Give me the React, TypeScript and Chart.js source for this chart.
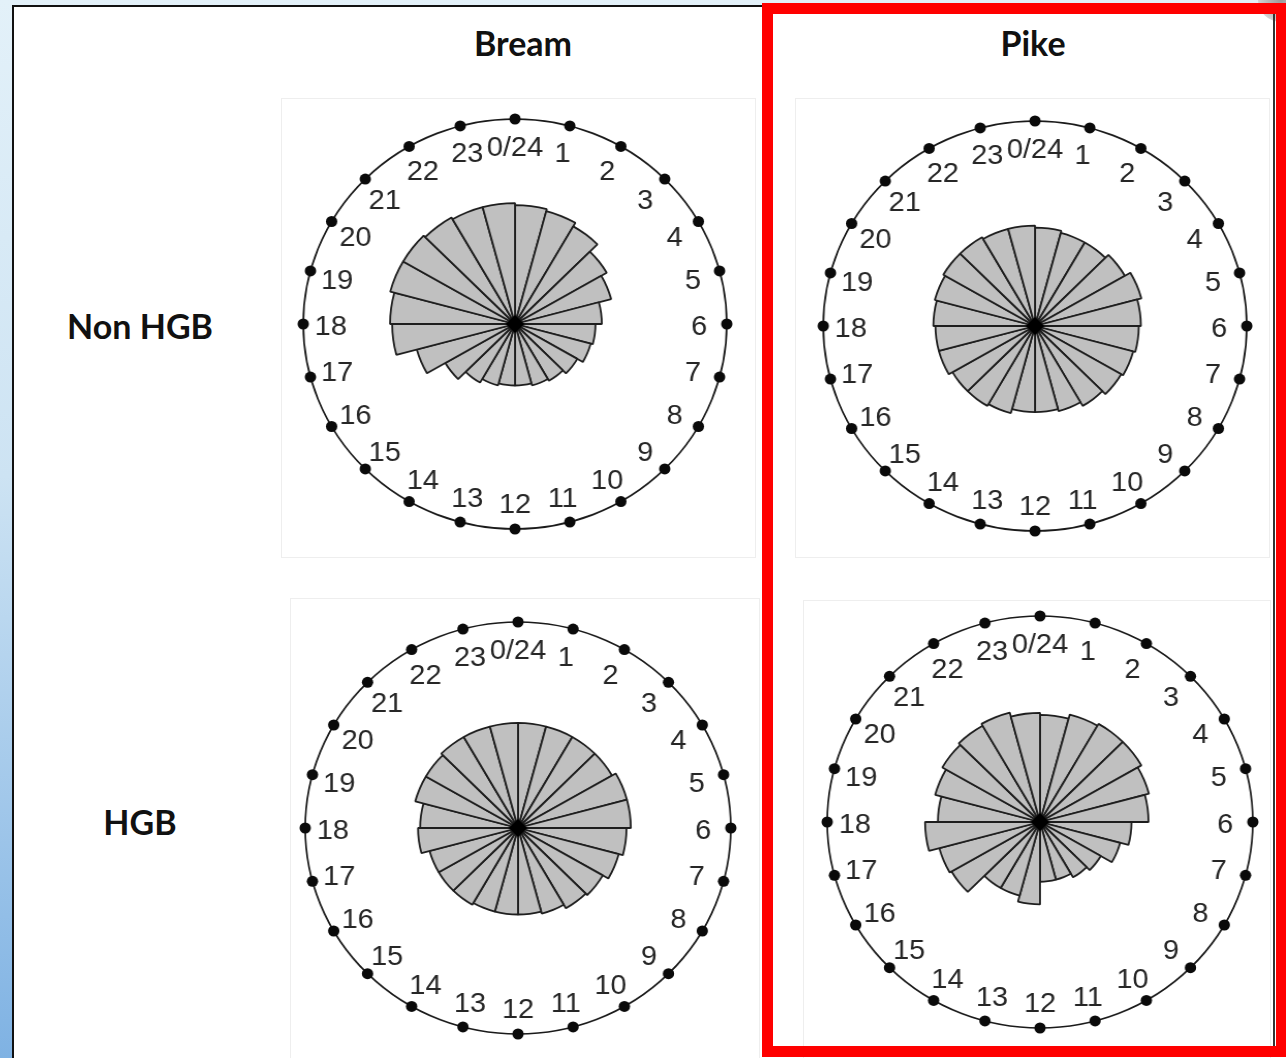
import React, { useEffect, useRef } from "react";
import { Chart, registerables } from "chart.js";

Chart.register(...registerables);

// Hour-of-day labels around each clock face (clockwise from the top).
const HOURS = [
  "0/24", "1", "2", "3", "4", "5", "6", "7", "8", "9", "10", "11",
  "12", "13", "14", "15", "16", "17", "18", "19", "20", "21", "22", "23",
];

// Radial value of the outer clock ring; petal lengths are on the same scale.
const RING = 100;

// Petal length per hourly bin (bin i spans hour i to i+1).
const breamNonHgb = [58, 57, 55, 50, 47, 41, 38, 37, 34, 32, 31, 30, 30, 31, 33, 38, 48, 58, 59, 61, 61, 60, 59, 59];
const pikeNonHgb = [48, 47, 47, 49, 52, 50, 49, 48, 47, 45, 43, 42, 42, 44, 45, 45, 47, 47, 48, 49, 50, 50, 49, 49];
const breamHgb = [51, 51, 51, 51, 53, 53, 51, 49, 46, 45, 43, 42, 42, 42, 43, 43, 43, 47, 46, 50, 50, 51, 51, 51];
const pikeHgb = [52, 54, 55, 55, 53, 51, 43, 39, 33, 31, 29, 29, 40, 37, 37, 48, 49, 54, 48, 51, 53, 54, 55, 53];

const SPECIES = ["Bream", "Pike"];
const GROUPS = ["Non HGB", "HGB"];

const X_STRETCH = 1.033;
const PAD = 14;

// Draws the clock ring, hour dots, hour labels and the centre marker.
const clockFace = {
  id: "clockFace",
  afterDatasetsDraw(chart: any) {
    const r = chart.scales.r;
    const ctx = chart.ctx as CanvasRenderingContext2D;
    const cx = r.xCenter;
    const cy = r.yCenter;
    const ring = r.getDistanceFromCenterForValue(RING);
    const labels = chart.data.labels as string[];
    ctx.save();
    ctx.beginPath();
    ctx.arc(cx, cy, ring, 0, Math.PI * 2);
    ctx.lineWidth = 1.7;
    ctx.strokeStyle = "#1a1a1a";
    ctx.stroke();

    ctx.fillStyle = "#0a0a0a";
    labels.forEach((_, i) => {
      const p = r.getPointPositionForValue(i, RING);
      ctx.beginPath();
      ctx.arc(p.x, p.y, 5.5, 0, Math.PI * 2);
      ctx.fill();
    });

    ctx.font = '28px "Liberation Sans", Arial, sans-serif';
    ctx.textAlign = "center";
    ctx.textBaseline = "middle";
    ctx.fillStyle = "#262626";
    labels.forEach((lab, i) => {
      const p = r.getPointPositionForValue(i, RING * 0.87);
      ctx.fillText(lab, p.x, p.y + 3);
    });

    // centre diamond
    const d = 9;
    ctx.beginPath();
    ctx.moveTo(cx, cy - d);
    ctx.lineTo(cx + d, cy);
    ctx.lineTo(cx, cy + d);
    ctx.lineTo(cx - d, cy);
    ctx.closePath();
    ctx.fillStyle = "#000";
    ctx.fill();
    ctx.restore();
  },
};

function Rose({ values, cx, cy, radius }: { values: number[]; cx: number; cy: number; radius: number }) {
  const ref = useRef<HTMLCanvasElement>(null);
  const size = 2 * (radius + PAD);
  useEffect(() => {
    if (!ref.current) return;
    const chart = new Chart(ref.current, {
      type: "polarArea",
      data: {
        labels: HOURS,
        datasets: [
          {
            data: values,
            backgroundColor: "#c0c0c0",
            borderColor: "#1e1e1e",
            borderWidth: 1.8,
          },
        ],
      },
      options: {
        responsive: false,
        animation: false,
        devicePixelRatio: 1,
        events: [],
        layout: { padding: PAD },
        plugins: { legend: { display: false }, tooltip: { enabled: false } },
        scales: {
          r: {
            min: 0,
            max: RING,
            startAngle: 0,
            ticks: { display: false },
            grid: { display: false },
            angleLines: { display: false },
            pointLabels: { display: false },
          },
        },
      } as any,
      plugins: [clockFace],
    });
    return () => chart.destroy();
  }, [values]);
  return (
    <div
      style={{
        position: "absolute",
        left: cx - size / 2,
        top: cy - size / 2,
        width: size,
        height: size,
        transform: `scaleX(${X_STRETCH})`,
        transformOrigin: "50% 50%",
      }}
    >
      <canvas ref={ref} width={size} height={size} style={{ width: size, height: size, display: "block" }} />
    </div>
  );
}

const headStyle: React.CSSProperties = {
  position: "absolute",
  transform: "translate(-50%, -50%)",
  fontFamily: "Lato, 'Open Sans', sans-serif",
  fontWeight: 700,
  fontSize: 34,
  color: "#111",
  whiteSpace: "nowrap",
  lineHeight: 1,
};

const boxStyle = (l: number, t: number, w: number, h: number): React.CSSProperties => ({
  position: "absolute",
  left: l,
  top: t,
  width: w,
  height: h,
  border: "1px solid #eeeeee",
  boxSizing: "border-box",
});

export default function App() {
  return (
    <div
      style={{
        position: "fixed",
        left: 0,
        top: 0,
        width: 1286,
        height: 1058,
        overflow: "hidden",
        background: "linear-gradient(to bottom, #e3f1f9 0%, #cde3f3 45%, #7fb2e3 100%)",
      }}
    >
      <div
        style={{
          position: "absolute",
          left: 12,
          top: 5,
          width: 1300,
          height: 1100,
          background: "#fff",
          borderLeft: "2px solid #111",
          borderTop: "2px solid #111",
        }}
      />
      <div
        style={{
          position: "absolute",
          left: 1258,
          top: -22,
          width: 46,
          height: 44,
          borderRadius: "50%",
          background: "radial-gradient(circle at 50% 50%, #9a9a9a 0%, #c8c8c8 60%, rgba(230,230,230,0) 100%)",
        }}
      />
      <div style={boxStyle(281, 98, 475, 460)} />
      <div style={boxStyle(795, 98, 475, 460)} />
      <div style={boxStyle(290, 598, 470, 470)} />
      <div style={boxStyle(803, 600, 468, 470)} />

      <div style={{ ...headStyle, left: 523, top: 43 }}>{SPECIES[0]}</div>
      <div style={{ ...headStyle, left: 1033, top: 43 }}>{SPECIES[1]}</div>
      <div style={{ ...headStyle, left: 140, top: 326 }}>{GROUPS[0]}</div>
      <div style={{ ...headStyle, left: 140, top: 822 }}>{GROUPS[1]}</div>

      <Rose values={breamNonHgb} cx={515} cy={324} radius={205} />
      <Rose values={pikeNonHgb} cx={1035} cy={326} radius={205} />
      <Rose values={breamHgb} cx={518} cy={828} radius={206} />
      <Rose values={pikeHgb} cx={1040} cy={822} radius={206} />

      <div style={{ position: "absolute", left: 1273, top: 14, width: 2, height: 1034, background: "#333" }} />
      <div
        style={{
          position: "absolute",
          left: 762,
          top: 3,
          width: 525,
          height: 1054,
          border: "11px solid #ff0000",
          boxSizing: "border-box",
        }}
      />
    </div>
  );
}
